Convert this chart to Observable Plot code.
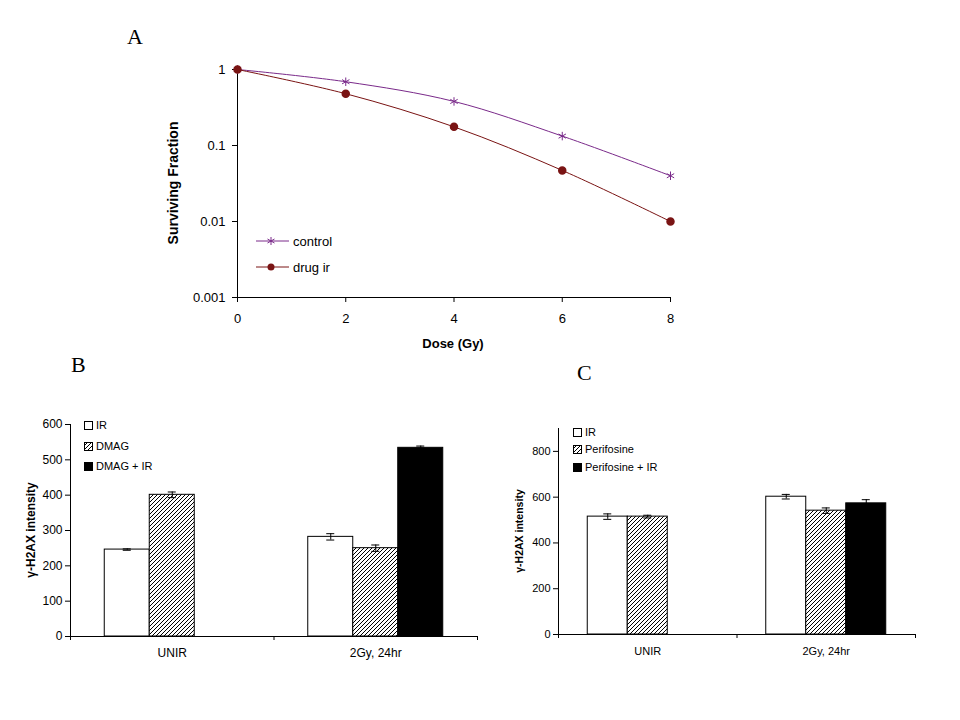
<!DOCTYPE html>
<html><head><meta charset="utf-8">
<script src="https://cdn.jsdelivr.net/npm/d3@7"></script>
<script src="https://cdn.jsdelivr.net/npm/@observablehq/plot@0.6"></script>
<style>
body{margin:0;background:#fff;}
#root{position:relative;width:960px;height:720px;overflow:hidden;font-family:"Liberation Sans",Arial,sans-serif;color:#000;}
.plot{position:absolute;}
.panel{position:absolute;font-family:"Liberation Serif","Times New Roman",serif;font-size:22px;line-height:22px;}
.ylab{position:absolute;transform:translate(-50%,-50%) rotate(-90deg);white-space:nowrap;font-weight:bold;line-height:1;}
.xlab{position:absolute;transform:translate(-50%,-50%);white-space:nowrap;font-weight:bold;line-height:1;}
.leg{position:absolute;display:flex;align-items:center;white-space:nowrap;height:16px;}
</style></head><body>
<svg width="0" height="0" style="position:absolute">
  <defs>
    <pattern id="hatch" patternUnits="userSpaceOnUse" width="4" height="4">
      <rect width="4" height="4" fill="white"/>
      <path d="M-1,1 l2,-2 M0,4 l4,-4 M3,5 l2,-2" stroke="black" stroke-width="1"/>
    </pattern>
  </defs>
</svg>
<div id="root"></div>
<script>
// ---------- Panel A data ----------
const doses = [0, 2, 4, 6, 8];
const seriesA = ["control", "drug ir"];
const controlSF = [1, 0.69, 0.38, 0.133, 0.04];
const drugSF = [1, 0.48, 0.176, 0.047, 0.01];
const yTicksA = [1, 0.1, 0.01, 0.001];
const colorsA = ["#7a2a8a", "#7a1414"];

// ---------- Panel B data ----------
const categories = ["UNIR", "2Gy, 24hr"];
const treatmentsB = ["IR", "DMAG", "DMAG + IR"];
const bIR = [246, 282], bIRerr = [2, 9];
const bDMAG = [401, 250], bDMAGerr = [8, 9];
const bCombo = [null, 534], bComboErr = [null, 5];
const yTicksB = [0, 100, 200, 300, 400, 500, 600];

// ---------- Panel C data ----------
const treatmentsC = ["IR", "Perifosine", "Perifosine + IR"];
const cIR = [515, 602], cIRerr = [12, 10];
const cPeri = [515, 541], cPeriErr = [6, 12];
const cCombo = [null, 573], cComboErr = [null, 16];
const yTicksC = [0, 200, 400, 600, 800];

const fills = ["white", "url(#hatch)", "black"];
const root = document.getElementById("root");
const FONT = "'Liberation Sans', Arial, sans-serif";

function place(el, left, top) {
  el.classList.add("plot");
  el.style.left = left + "px";
  el.style.top = top + "px";
  root.appendChild(el);
}
function addDiv(cls, text, css) {
  const d = document.createElement("div");
  d.className = cls;
  d.textContent = text;
  Object.assign(d.style, css);
  root.appendChild(d);
  return d;
}

// ---------- Panel A ----------
const rowsA = [];
doses.forEach((x, i) => {
  rowsA.push({dose: x, sf: controlSF[i], series: seriesA[0]});
  rowsA.push({dose: x, sf: drugSF[i], series: seriesA[1]});
});
const plotA = Plot.plot({
  width: 700, height: 360,
  marginLeft: 237, marginRight: 30, marginTop: 69, marginBottom: 63,
  style: {fontFamily: FONT, fontSize: "13px", color: "black", background: "transparent", overflow: "visible"},
  x: {domain: [0, 8], ticks: doses, tickSize: 5, tickPadding: 11, label: null},
  y: {type: "log", domain: [0.001, 1], ticks: yTicksA, tickFormat: d => String(d), tickSize: 5, tickPadding: 7, label: null},
  color: {domain: seriesA, range: colorsA},
  marks: [
    Plot.ruleY([0.001], {stroke: "black"}),
    Plot.ruleX([0], {y1: 0.001, y2: 1, stroke: "black"}),
    Plot.line(rowsA, {x: "dose", y: "sf", z: "series", stroke: "series", curve: "catmull-rom", strokeWidth: 1}),
    Plot.dot(rowsA.filter(d => d.series === seriesA[0]), {x: "dose", y: "sf", symbol: "asterisk", r: 4, stroke: colorsA[0], strokeWidth: 1}),
    Plot.dot(rowsA.filter(d => d.series === seriesA[1]), {x: "dose", y: "sf", symbol: "circle", r: 3.5, fill: colorsA[1], stroke: colorsA[1]})
  ]
});
place(plotA, 0, 0);

addDiv("ylab", "Surviving Fraction", {left: "173px", top: "183px", fontSize: "14px"});
addDiv("xlab", "Dose (Gy)", {left: "453px", top: "343px", fontSize: "13px"});

// legend A
[[seriesA[0], colorsA[0], "asterisk", 241], [seriesA[1], colorsA[1], "circle", 267]].forEach(([name, col, sym, cy]) => {
  const d = document.createElement("div");
  d.className = "leg";
  d.style.left = "256px";
  d.style.top = (cy - 8) + "px";
  d.style.fontSize = "13px";
  let marker;
  if (sym === "circle") marker = `<circle cx="15" cy="8" r="3.5" fill="${col}"/>`;
  else marker = `<path d="M15,4 V12 M11.5,6 L18.5,10 M11.5,10 L18.5,6" stroke="${col}" stroke-width="1"/>`;
  d.innerHTML = `<svg width="33" height="16" style="margin-right:4px"><line x1="0" x2="33" y1="8" y2="8" stroke="${col}" stroke-width="1"/>${marker}</svg><span>${name}</span>`;
  root.appendChild(d);
});

// ---------- Bar panels ----------
function barPanel(cfg) {
  const rows = [];
  cfg.values.forEach((vals, ti) => {
    vals.forEach((v, ci) => {
      if (v != null) rows.push({ci, ti, v, e: cfg.errors[ti][ci], cat: categories[ci], trt: cfg.treatments[ti]});
    });
  });
  const w = cfg.barW, cap = cfg.capW;
  const cx = d => d.ci + (d.ti - 1) * w;
  const yMax = cfg.yMax;
  return Plot.plot({
    width: cfg.width, height: cfg.height,
    marginLeft: cfg.ml, marginRight: cfg.mr, marginTop: cfg.mt, marginBottom: cfg.mb,
    style: {fontFamily: FONT, fontSize: cfg.fs + "px", color: "black", background: "transparent", overflow: "visible"},
    x: {domain: [-0.5, 1.5], ticks: [-0.5, 0.5, 1.5], tickFormat: () => "", tickSize: 4, label: null},
    y: {domain: [0, yMax], ticks: cfg.ticks, tickSize: 5, tickPadding: 3, label: null},
    color: {type: "identity"},
    marks: [
      Plot.rectY(rows, {x1: d => cx(d) - w / 2, x2: d => cx(d) + w / 2, y1: 0, y2: "v",
        fill: d => fills[d.ti], stroke: "black", strokeWidth: 1}),
      Plot.ruleX(rows, {x: cx, y1: d => d.v - d.e, y2: d => d.v + d.e, stroke: "black"}),
      Plot.ruleY(rows, {y: d => d.v + d.e, x1: d => cx(d) - cap, x2: d => cx(d) + cap, stroke: "black"}),
      Plot.ruleY(rows, {y: d => d.v - d.e, x1: d => cx(d) - cap, x2: d => cx(d) + cap, stroke: "black"}),
      Plot.ruleY([0], {stroke: "black"}),
      Plot.ruleX([-0.5], {y1: 0, y2: yMax, stroke: "black"}),
      Plot.text(categories, {x: (d, i) => i, text: d => d, frameAnchor: "bottom", dy: cfg.catDy, fontSize: cfg.fs})
    ]
  });
}

const plotB = barPanel({
  values: [bIR, bDMAG, bCombo], errors: [bIRerr, bDMAGerr, bComboErr], treatments: treatmentsB,
  yMax: 600, ticks: yTicksB, width: 500, height: 300, ml: 70, mr: 23, mt: 44, mb: 44,
  barW: 45 / 203.5, capW: 4 / 203.5, fs: 12, catDy: 20
});
place(plotB, 0, 380);

const plotC = barPanel({
  values: [cIR, cPeri, cCombo], errors: [cIRerr, cPeriErr, cComboErr], treatments: treatmentsC,
  yMax: 900, ticks: yTicksC, width: 460, height: 300, ml: 58, mr: 45, mt: 48, mb: 46,
  barW: 40 / 178.5, capW: 4 / 178.5, fs: 11, catDy: 20
});
place(plotC, 500, 380);

addDiv("ylab", "γ-H2AX intensity", {left: "31px", top: "530px", fontSize: "12px"});
addDiv("ylab", "γ-H2AX intensity", {left: "519px", top: "531px", fontSize: "10.5px"});

// bar legends
function barLegend(names, left, ys, fs) {
  names.forEach((n, i) => {
    const d = document.createElement("div");
    d.className = "leg";
    d.style.left = left + "px";
    d.style.top = (ys[i] - 8) + "px";
    d.style.fontSize = fs + "px";
    d.innerHTML = `<svg width="9" height="9" style="margin-right:3px"><rect x="0.5" y="0.5" width="8" height="8" fill="${fills[i]}" stroke="black"/></svg><span>${n}</span>`;
    root.appendChild(d);
  });
}
barLegend(treatmentsB, 84, [425, 446, 466], 11);
barLegend(treatmentsC, 573, [432, 449, 467], 11);

// panel letters
addDiv("panel", "A", {left: "127px", top: "26px"});
addDiv("panel", "B", {left: "71px", top: "354px"});
addDiv("panel", "C", {left: "577px", top: "362px"});
</script>
</body></html>
